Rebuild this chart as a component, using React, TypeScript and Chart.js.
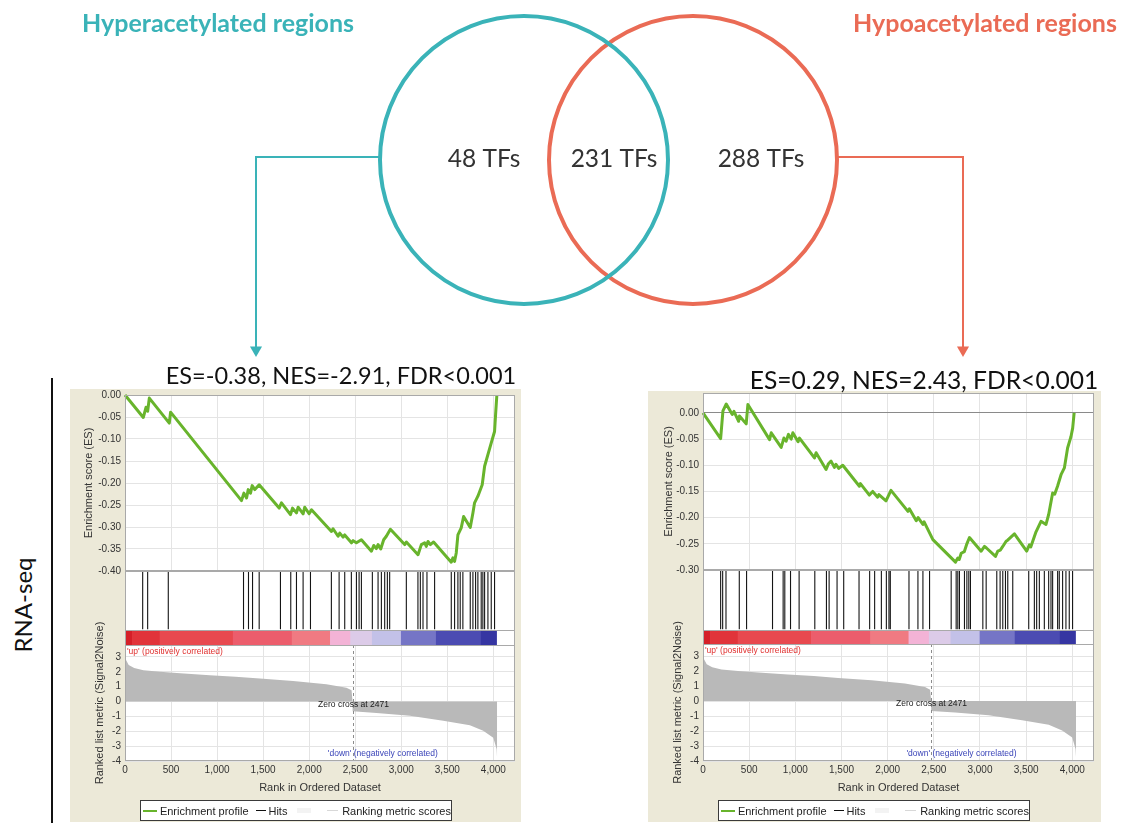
import React, { useEffect, useRef } from 'react';
import { Chart, registerables } from 'chart.js';

Chart.register(...registerables);

// ---------- data ----------
const SET_TITLES = ['Hyperacetylated regions', 'Hypoacetylated regions'];
const VENN_COUNTS = ['48 TFs', '231 TFs', '288 TFs'];
const STATS = ['ES=-0.38, NES=-2.91, FDR<0.001', 'ES=0.29, NES=2.43, FDR<0.001'];
const SIDE_LABEL = 'RNA-seq';

const X_MAX = 4235;
const X_TICKS = [0, 500, 1000, 1500, 2000, 2500, 3000, 3500, 4000];
const LEFT_ES_TICKS = [-0.4, -0.35, -0.3, -0.25, -0.2, -0.15, -0.1, -0.05, 0];
const RIGHT_ES_TICKS = [-0.3, -0.25, -0.2, -0.15, -0.1, -0.05, 0];
const METRIC_TICKS = [-4, -3, -2, -1, 0, 1, 2, 3];
const ZERO_CROSS = 2471;

// running enrichment score [rank, ES]
const LEFT_ES: [number, number][] = [
  [0, 0], [199, -0.051], [228, -0.028], [246, -0.037], [264, -0.007], [481, -0.064], [495, -0.039],
  [1265, -0.24], [1291, -0.223], [1320, -0.234], [1338, -0.215], [1363, -0.223], [1381, -0.206],
  [1410, -0.215], [1457, -0.204], [1674, -0.257], [1699, -0.245], [1797, -0.272], [1819, -0.257],
  [1862, -0.268], [1880, -0.255], [1934, -0.27], [1952, -0.255], [1999, -0.27], [2025, -0.261],
  [2242, -0.31], [2259, -0.304], [2314, -0.321], [2332, -0.314], [2368, -0.323], [2386, -0.318],
  [2459, -0.336], [2477, -0.331], [2513, -0.336], [2567, -0.329], [2676, -0.355], [2701, -0.342],
  [2729, -0.349], [2748, -0.34], [2777, -0.35], [2809, -0.329], [2838, -0.321], [2882, -0.305],
  [3037, -0.34], [3055, -0.334], [3182, -0.363], [3218, -0.34], [3254, -0.336], [3272, -0.344],
  [3290, -0.333], [3316, -0.34], [3351, -0.334], [3543, -0.38], [3561, -0.37], [3579, -0.378],
  [3597, -0.359], [3615, -0.318], [3651, -0.302], [3677, -0.276], [3749, -0.301], [3778, -0.268],
  [3796, -0.245], [3832, -0.23], [3879, -0.204], [3905, -0.162], [3977, -0.109], [4013, -0.083],
  [4024, -0.045], [4038, 0],
];
const RIGHT_ES: [number, number][] = [
  [0, 0], [191, -0.049], [216, 0.004], [252, 0.017], [317, -0.003], [335, 0.003], [386, -0.016],
  [395, -0.006], [468, -0.021], [486, 0.016], [721, -0.051], [739, -0.038], [847, -0.066],
  [876, -0.048], [900, -0.054], [926, -0.041], [955, -0.05], [973, -0.038], [1030, -0.055],
  [1045, -0.048], [1207, -0.086], [1225, -0.076], [1333, -0.108], [1359, -0.097], [1387, -0.092],
  [1423, -0.104], [1440, -0.098], [1470, -0.106], [1514, -0.1], [1694, -0.14], [1705, -0.135],
  [1802, -0.157], [1838, -0.15], [1892, -0.161], [1905, -0.156], [1982, -0.168], [2036, -0.148],
  [2220, -0.188], [2235, -0.183], [2310, -0.206], [2330, -0.2], [2382, -0.213], [2395, -0.208],
  [2490, -0.242], [2735, -0.285], [2760, -0.277], [2775, -0.28], [2797, -0.268], [2830, -0.265],
  [2858, -0.25], [2886, -0.238], [3013, -0.264], [3049, -0.255], [3070, -0.258], [3168, -0.274],
  [3193, -0.264], [3220, -0.262], [3247, -0.255], [3283, -0.245], [3300, -0.243], [3373, -0.231],
  [3506, -0.264], [3535, -0.252], [3550, -0.256], [3607, -0.227], [3661, -0.207], [3715, -0.213],
  [3744, -0.194], [3787, -0.153], [3810, -0.155], [3840, -0.14], [3878, -0.118], [3914, -0.105],
  [3949, -0.067], [3986, -0.045], [4004, -0.029], [4020, 0],
];

// hit ranks
const LEFT_HITS = [192, 246, 470, 1287, 1341, 1385, 1457, 1688, 1800, 1862, 1934, 2014, 2241, 2325, 2386,
  2458, 2513, 2542, 2567, 2686, 2748, 2784, 2820, 2849, 2874, 3055, 3181, 3207, 3236, 3279, 3362, 3543,
  3579, 3615, 3640, 3669, 3749, 3778, 3807, 3832, 3868, 3886, 3905, 3941, 3977, 4013];
const RIGHT_HITS = [191, 213, 249, 393, 472, 753, 868, 886, 948, 1041, 1211, 1337, 1366, 1452, 1524, 1690,
  1805, 1859, 1932, 1986, 2014, 2029, 2231, 2328, 2382, 2454, 2688, 2742, 2760, 2778, 2832, 2858, 2879,
  2897, 3031, 3067, 3182, 3218, 3247, 3276, 3301, 3355, 3528, 3589, 3614, 3643, 3697, 3744, 3769, 3787,
  3841, 3859, 3895, 3931, 3967, 4003];

// ranked list metric (Signal2Noise) [rank, value]
const METRIC: [number, number][] = [
  [0, 3.0], [10, 2.8], [40, 2.45], [100, 2.25], [200, 2.1], [380, 2.0], [600, 1.9], [920, 1.77],
  [1200, 1.66], [1464, 1.54], [1826, 1.38], [2187, 1.16], [2405, 0.93], [2460, 0.75], [2471, 0],
  [2472, -0.66], [2731, -0.77], [3094, -0.95], [3456, -1.29], [3745, -1.59], [3890, -1.97],
  [3999, -2.43], [4035, -3.2], [4040, -3.74], [4041, 0],
];

// heat bar segments
const COLORBAR_EDGES = [0, 80, 380, 1175, 1815, 2230, 2450, 2685, 3000, 3380, 3868, 4035];
const COLORBAR_COLORS = ['#d51f28', '#e1343a', '#e8494f', '#ec5d6c', '#f07a82', '#f3b3d6', '#dccbe8',
  '#c3c1e8', '#7575c6', '#4b4bb2', '#3535a2'];

const UP_LABEL = "'up' (positively correlated)";
const DOWN_LABEL = "'down' (negatively correlated)";
const LEGEND_ITEMS = ['Enrichment profile', 'Hits', 'Ranking metric scores'];

// ---------- styles ----------
const GSEA_FONT = '"Liberation Sans", Arial, sans-serif';
const VENN_FONT = 'Lato, "Open Sans", sans-serif';
const TEAL = '#3ab3b8';
const ORANGE = '#ea6b55';
const GREEN = '#68b42c';
const BEIGE = '#ece9d8';
const GRID = '#e4e4e4';
const FRAME = '#a9a9a9';
const AXIS_W = 55;

Chart.defaults.font.family = GSEA_FONT;

const framePlugin = {
  id: 'frame',
  beforeDraw(chart: any) {
    const { ctx, chartArea: a } = chart;
    ctx.save();
    ctx.fillStyle = '#ffffff';
    ctx.fillRect(a.left, a.top, a.right - a.left, a.bottom - a.top);
    ctx.restore();
  },
  afterDraw(chart: any) {
    const { ctx, chartArea: a } = chart;
    ctx.save();
    ctx.strokeStyle = FRAME;
    ctx.lineWidth = 1;
    ctx.strokeRect(Math.round(a.left) + 0.5, Math.round(a.top) + 0.5, Math.round(a.right - a.left) - 1, Math.round(a.bottom - a.top) - 1);
    ctx.restore();
  },
};

const xTicksHook = (s: any) => { s.ticks = X_TICKS.map((v) => ({ value: v })); };
const yFit = (s: any) => { s.width = AXIS_W; s.paddingTop = 0; s.paddingBottom = 0; };

function baseOptions(extra: any) {
  const { layout, ...rest } = extra;
  return {
    responsive: false,
    animation: false,
    devicePixelRatio: 1,
    events: [],
    plugins: { legend: { display: false }, tooltip: { enabled: false } },
    layout: { autoPadding: false, ...(layout || {}) },
    ...rest,
  };
}

function ChartCanvas({ left, top, width, height, config }: any) {
  const ref = useRef<HTMLCanvasElement | null>(null);
  useEffect(() => {
    if (!ref.current) return;
    const chart = new Chart(ref.current, config());
    return () => chart.destroy();
  }, []);
  return (
    <canvas
      ref={ref}
      width={width}
      height={height}
      style={{ position: 'absolute', left, top, width, height, display: 'block' }}
    />
  );
}

function esConfig(points: [number, number][], yMin: number, yMax: number, yTicks: number[], titlePad: number, zeroLine: boolean) {
  return () => ({
    type: 'line',
    data: {
      datasets: [{
        data: points.map(([x, y]) => ({ x, y })),
        borderColor: GREEN,
        borderWidth: 3,
        borderJoinStyle: 'round',
        pointRadius: 0,
        tension: 0,
        fill: false,
        clip: 4,
      }],
    },
    options: baseOptions({
      layout: { padding: { top: 7, bottom: 8, left: 0, right: 0 } },
      scales: {
        x: {
          type: 'linear', min: 0, max: X_MAX,
          afterBuildTicks: xTicksHook,
          ticks: { display: false },
          grid: { color: GRID, drawTicks: false },
          border: { display: false },
          afterFit: (s: any) => { s.height = 0; s.paddingLeft = 0; s.paddingRight = 0; },
        },
        y: {
          type: 'linear', min: yMin, max: yMax,
          afterBuildTicks: (s: any) => { s.ticks = yTicks.map((v) => ({ value: v })); },
          ticks: { callback: (v: any) => Number(v).toFixed(2), font: { size: 10 }, color: '#333', padding: 4 },
          grid: {
            color: (c: any) => (zeroLine && c.tick && c.tick.value === 0 ? '#8a8a8a' : GRID),
            drawTicks: false,
          },
          border: { display: false },
          title: { display: true, text: 'Enrichment score (ES)', font: { size: 11 }, color: '#333', padding: { top: titlePad, bottom: 0 } },
          afterFit: yFit,
        },
      },
    }),
    plugins: [framePlugin],
  });
}

function hitsConfig(hits: number[]) {
  return () => ({
    type: 'line',
    data: {
      datasets: [{
        data: hits.flatMap((r) => [{ x: r, y: 0.03 }, { x: r, y: 1 }, { x: r, y: null }]),
        borderColor: '#151515',
        borderWidth: 1.1,
        pointRadius: 0,
        spanGaps: false,
      }],
    },
    options: baseOptions({
      layout: { padding: { left: AXIS_W, top: 0, bottom: 0, right: 0 } },
      scales: {
        x: { type: 'linear', min: 0, max: X_MAX, display: false },
        y: { type: 'linear', min: 0, max: 1, display: false },
      },
    }),
    plugins: [framePlugin],
  });
}

function barConfig() {
  return () => ({
    type: 'bar',
    data: {
      labels: ['heat'],
      datasets: [{
        data: COLORBAR_COLORS.map((_, i) => ({ x: [COLORBAR_EDGES[i], COLORBAR_EDGES[i + 1]], y: 'heat' })),
        backgroundColor: COLORBAR_COLORS,
        borderWidth: 0,
        barPercentage: 1,
        categoryPercentage: 1,
      }],
    },
    options: baseOptions({
      indexAxis: 'y',
      layout: { padding: { left: AXIS_W, top: 0, bottom: 0, right: 0 } },
      scales: {
        x: { type: 'linear', min: 0, max: X_MAX, display: false },
        y: { type: 'category', display: false },
      },
    }),
    plugins: [framePlugin],
  });
}

const metricNotes = {
  id: 'metricNotes',
  afterDatasetsDraw(chart: any) {
    const { ctx, chartArea: a, scales } = chart;
    const x = scales.x;
    const y = scales.y;
    const zx = Math.round(x.getPixelForValue(ZERO_CROSS)) + 0.5;
    ctx.save();
    ctx.strokeStyle = '#8c8c8c';
    ctx.lineWidth = 1;
    ctx.setLineDash([3, 3]);
    ctx.beginPath();
    ctx.moveTo(zx, a.top);
    ctx.lineTo(zx, a.bottom);
    ctx.stroke();
    ctx.setLineDash([]);
    ctx.font = `8.5px ${GSEA_FONT}`;
    ctx.textBaseline = 'middle';
    ctx.textAlign = 'left';
    ctx.fillStyle = '#e0302f';
    ctx.fillText(UP_LABEL, a.left + 2, a.top + 7);
    ctx.textAlign = 'center';
    ctx.fillStyle = '#1a1a1a';
    ctx.fillText(`Zero cross at ${ZERO_CROSS}`, zx, y.getPixelForValue(0) + 3);
    ctx.fillStyle = '#3a44b8';
    ctx.fillText(DOWN_LABEL, x.getPixelForValue(2800), a.bottom - 7);
    ctx.restore();
  },
};

function metricConfig(titleTop: number) {
  return () => ({
    type: 'line',
    data: {
      datasets: [{
        data: METRIC.map(([x, y]) => ({ x, y })),
        fill: 'origin',
        backgroundColor: '#b9b9b9',
        borderColor: 'rgba(0,0,0,0)',
        borderWidth: 0,
        pointRadius: 0,
        tension: 0,
      }],
    },
    options: baseOptions({
      layout: { padding: { top: titleTop, bottom: 0, left: 0, right: 0 } },
      scales: {
        x: {
          type: 'linear', min: 0, max: X_MAX,
          afterBuildTicks: xTicksHook,
          ticks: { font: { size: 10 }, color: '#333', padding: 3, maxRotation: 0, autoSkip: false },
          grid: { color: GRID, drawTicks: false },
          border: { display: false },
          title: { display: true, text: 'Rank in Ordered Dataset', font: { size: 11 }, color: '#333', padding: { top: 0, bottom: 2 } },
          afterFit: (s: any) => { s.height = 36; s.paddingLeft = 0; s.paddingRight = 0; },
        },
        y: {
          type: 'linear', min: -4, max: 3.8,
          afterBuildTicks: (s: any) => { s.ticks = METRIC_TICKS.map((v) => ({ value: v })); },
          ticks: { font: { size: 10 }, color: '#333', padding: 4 },
          grid: { color: GRID, drawTicks: false },
          border: { display: false },
          title: { display: true, text: 'Ranked list metric (Signal2Noise)', font: { size: 11 }, color: '#333', padding: { top: 23, bottom: 0 } },
          afterFit: yFit,
        },
      },
    }),
    plugins: [framePlugin, metricNotes],
  });
}

function Legend({ left, top }: any) {
  const swatch = (w: number, h: number, c: string, ml: number, mr: number) => (
    <span style={{ display: 'inline-block', width: w, height: h, background: c, marginLeft: ml, marginRight: mr }} />
  );
  return (
    <div style={{
      position: 'absolute', left, top, width: 312, height: 21, boxSizing: 'border-box',
      border: '1.5px solid #3a3a3a', background: '#fff', display: 'flex', alignItems: 'center',
      fontFamily: GSEA_FONT, fontSize: 11, color: '#222', whiteSpace: 'nowrap',
    }}>
      {swatch(14, 2, GREEN, 2, 3)}<span>{LEGEND_ITEMS[0]}</span>
      {swatch(11, 1.5, '#111', 7, 2)}<span>{LEGEND_ITEMS[1]}</span>
      {swatch(14, 5, '#f3f3f3', 10, 0)}
      {swatch(11, 1, '#d8d8d8', 16, 4)}<span>{LEGEND_ITEMS[2]}</span>
    </div>
  );
}

function GseaPanel({ bgLeft, bgTop, bgWidth, x0, width, esTop, esBottom, hitsBottom, barBottom, metricBottom, es, esMin, esMax, esTicks, hits, zeroLine, esTitlePad, legendLeft }: any) {
  const titleTop = 45;
  return (
    <>
      <div style={{ position: 'absolute', left: bgLeft, top: bgTop, width: bgWidth, height: 822 - bgTop, background: BEIGE }} />
      <ChartCanvas left={x0} top={esTop - 7} width={width} height={esBottom - esTop + 15}
        config={esConfig(es, esMin, esMax, esTicks, esTitlePad, zeroLine)} />
      <ChartCanvas left={x0} top={esBottom} width={width} height={hitsBottom - esBottom + 1} config={hitsConfig(hits)} />
      <ChartCanvas left={x0} top={hitsBottom} width={width} height={barBottom - hitsBottom + 1} config={barConfig()} />
      <ChartCanvas left={x0} top={barBottom - titleTop} width={width} height={metricBottom - barBottom + titleTop + 36}
        config={metricConfig(titleTop)} />
      <Legend left={legendLeft} top={800} />
    </>
  );
}

function vennConfig() {
  return () => ({
    type: 'scatter',
    data: {
      datasets: [
        { data: [{ x: 524, y: 160 }], pointRadius: 144, pointBorderWidth: 4, pointBorderColor: TEAL, pointBackgroundColor: 'rgba(0,0,0,0)', clip: false },
        { data: [{ x: 693, y: 160 }], pointRadius: 144, pointBorderWidth: 4, pointBorderColor: ORANGE, pointBackgroundColor: 'rgba(0,0,0,0)', clip: false },
        {
          type: 'line', data: [{ x: 381, y: 157 }, { x: 256, y: 157 }, { x: 256, y: 350 }],
          borderColor: TEAL, borderWidth: 2, pointRadius: [0, 0, 7], pointStyle: 'triangle', pointRotation: 180,
          pointBackgroundColor: TEAL, pointBorderColor: TEAL, pointBorderWidth: 0, clip: false,
        },
        {
          type: 'line', data: [{ x: 836, y: 157 }, { x: 963, y: 157 }, { x: 963, y: 350 }],
          borderColor: ORANGE, borderWidth: 2, pointRadius: [0, 0, 7], pointStyle: 'triangle', pointRotation: 180,
          pointBackgroundColor: ORANGE, pointBorderColor: ORANGE, pointBorderWidth: 0, clip: false,
        },
      ],
    },
    options: baseOptions({
      layout: { padding: 0 },
      scales: {
        x: { type: 'linear', min: 0, max: 1122, display: false },
        y: { type: 'linear', min: 0, max: 365, reverse: true, display: false },
      },
    }),
    plugins: [{
      id: 'counts',
      afterDatasetsDraw(chart: any) {
        const { ctx, scales } = chart;
        const xs = [484, 614, 761];
        ctx.save();
        ctx.font = `24.5px ${VENN_FONT}`;
        ctx.fillStyle = '#333';
        ctx.textAlign = 'center';
        ctx.textBaseline = 'middle';
        VENN_COUNTS.forEach((t, i) => ctx.fillText(t, scales.x.getPixelForValue(xs[i]), scales.y.getPixelForValue(159)));
        ctx.restore();
      },
    }],
  });
}

export default function App() {
  const centered = (x: number, y: number, extra: any) => ({
    position: 'absolute' as const, left: x, top: y, transform: 'translate(-50%, -50%)', whiteSpace: 'nowrap' as const, ...extra,
  });
  return (
    <div style={{ position: 'absolute', left: 0, top: 0, width: 1122, height: 823, background: '#fff', overflow: 'hidden' }}>
      <GseaPanel bgLeft={70} bgTop={389} bgWidth={451} x0={70} width={445} esTop={395} esBottom={571} hitsBottom={630}
        barBottom={645} metricBottom={761} es={LEFT_ES} esMin={-0.4} esMax={0} esTicks={LEFT_ES_TICKS}
        hits={LEFT_HITS} zeroLine={false} esTitlePad={12} legendLeft={140} />
      <GseaPanel bgLeft={648} bgTop={391} bgWidth={453} x0={648} width={446} esTop={393} esBottom={570} hitsBottom={630}
        barBottom={644} metricBottom={761} es={RIGHT_ES} esMin={-0.3} esMax={0.038} esTicks={RIGHT_ES_TICKS}
        hits={RIGHT_HITS} zeroLine={true} esTitlePad={14} legendLeft={718} />
      <ChartCanvas left={0} top={0} width={1122} height={365} config={vennConfig()} />
      <div style={centered(218, 22, { fontFamily: VENN_FONT, fontWeight: 700, fontSize: 25, color: TEAL })}>{SET_TITLES[0]}</div>
      <div style={centered(985, 22, { fontFamily: VENN_FONT, fontWeight: 700, fontSize: 25, color: ORANGE })}>{SET_TITLES[1]}</div>
      <div style={centered(341, 375, { fontFamily: VENN_FONT, fontSize: 23.5, color: '#111' })}>{STATS[0]}</div>
      <div style={centered(924, 379, { fontFamily: VENN_FONT, fontSize: 24.6, color: '#111' })}>{STATS[1]}</div>
      <div style={{ position: 'absolute', left: 51, top: 378, width: 2, height: 445, background: '#111' }} />
      <div style={centered(22, 605, { fontFamily: VENN_FONT, fontSize: 24, color: '#111', transform: 'translate(-50%, -50%) rotate(-90deg)' })}>{SIDE_LABEL}</div>
    </div>
  );
}
